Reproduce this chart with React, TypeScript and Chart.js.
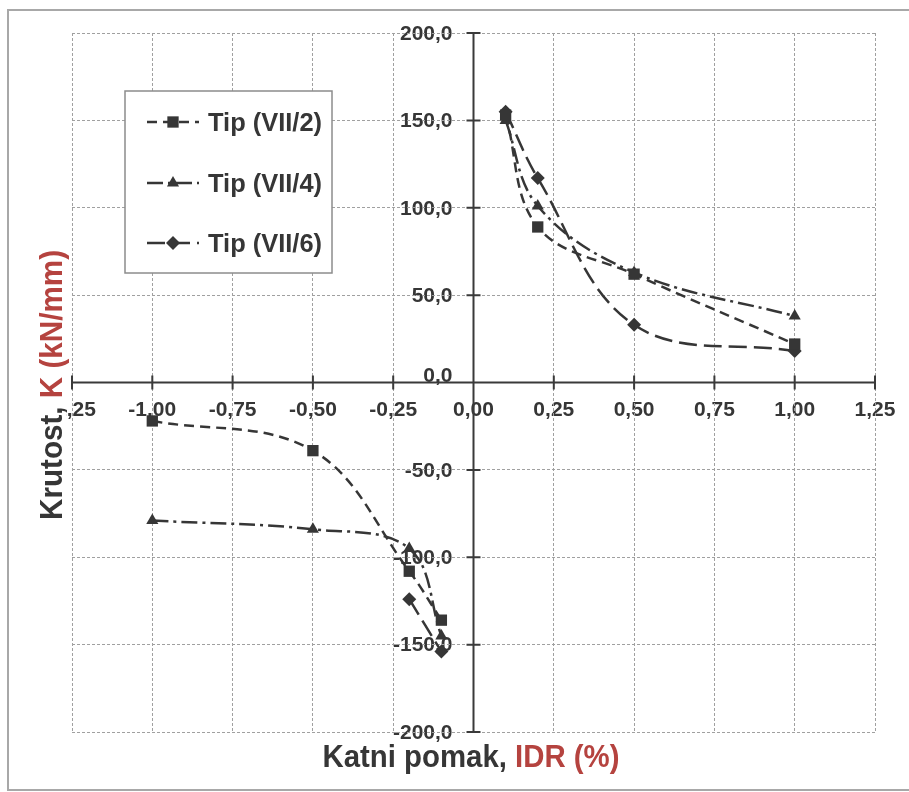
import React, { useEffect, useRef } from 'react';
import { Chart, registerables } from 'chart.js';

Chart.register(...registerables);

// ---- data ----
const X_VALUES = [-1.0, -0.5, -0.2, -0.1, 0.1, 0.2, 0.5, 1.0];
const TIP_VII_2 = [-22, -39, -108, -136, 153, 89, 62, 22];
const TIP_VII_4 = [-79, -84, -95, -145, 150, 101, 63, 38];
const TIP_VII_6 = [null, null, -124, -154, 155, 117, 33, 18];
const SERIES_NAMES = ['Tip (VII/2)', 'Tip (VII/4)', 'Tip (VII/6)'];
const X_TICK_LABELS = ['-1,25', '-1,00', '-0,75', '-0,50', '-0,25', '0,00', '0,25', '0,50', '0,75', '1,00', '1,25'];
const Y_TICK_LABELS = ['-200,0', '-150,0', '-100,0', '-50,0', '0,0', '50,0', '100,0', '150,0', '200,0'];
const X_TITLE = ['Katni pomak, ', 'IDR (%)'];
const Y_TITLE = ['Krutost, ', 'K (kN/mm)'];

// ---- styles ----
const W = 909;
const H = 792;
const INK = '#363636';
const RED = '#b5433f';
const FONT = '"Liberation Sans", Arial, sans-serif';
const DASHES = [[10, 6], [16, 5, 3, 5], [18, 7]];
const MARKERS = ['rect', 'triangle', 'rectRot'];
const RADII = [8, 7, 7];

function toPoints(vals: (number | null)[]) {
  const pts: { x: number; y: number | null }[] = [];
  X_VALUES.forEach((x, i) => {
    if (i > 0 && X_VALUES[i - 1] < 0 && x > 0) pts.push({ x: 0, y: null });
    pts.push({ x, y: vals[i] });
  });
  return pts;
}

function drawMarker(ctx: CanvasRenderingContext2D, style: string, x: number, y: number, r: number) {
  ctx.beginPath();
  if (style === 'rect') {
    const s = Math.SQRT1_2 * r;
    ctx.rect(x - s, y - s, 2 * s, 2 * s);
  } else if (style === 'triangle') {
    ctx.moveTo(x, y - r);
    ctx.lineTo(x + r * Math.sin(Math.PI / 3), y + r / 2);
    ctx.lineTo(x - r * Math.sin(Math.PI / 3), y + r / 2);
    ctx.closePath();
  } else {
    ctx.moveTo(x, y - r);
    ctx.lineTo(x + r, y);
    ctx.lineTo(x, y + r);
    ctx.lineTo(x - r, y);
    ctx.closePath();
  }
  ctx.fill();
}

function drawFitted(
  ctx: CanvasRenderingContext2D,
  parts: string[],
  colors: string[],
  cx: number,
  baseY: number,
  fontPx: number,
  targetW: number,
  rotate: boolean
) {
  ctx.save();
  ctx.font = `bold ${fontPx}px ${FONT}`;
  ctx.textAlign = 'left';
  ctx.textBaseline = 'alphabetic';
  const widths = parts.map((p) => ctx.measureText(p).width);
  const total = widths.reduce((a, b) => a + b, 0);
  const sx = targetW / total;
  if (rotate) {
    ctx.translate(baseY, cx);
    ctx.rotate(-Math.PI / 2);
  } else {
    ctx.translate(cx, baseY);
  }
  ctx.scale(sx, 1);
  let x = -total / 2;
  parts.forEach((p, i) => {
    ctx.fillStyle = colors[i];
    ctx.fillText(p, x, 0);
    x += widths[i];
  });
  ctx.restore();
}

const decorPlugin = {
  id: 'decor',
  beforeDraw(chart: any) {
    const { ctx, scales } = chart;
    const xs = scales.x;
    const ys = scales.y;
    const x0 = xs.getPixelForValue(0);
    const y0 = ys.getPixelForValue(0);
    ctx.save();
    ctx.fillStyle = '#ffffff';
    ctx.fillRect(0, 0, W, H);
    // outer frame
    ctx.strokeStyle = '#a8a8a8';
    ctx.lineWidth = 2;
    ctx.strokeRect(8, 10, W + 10, 780);

    // tick labels
    ctx.fillStyle = INK;
    ctx.font = `bold 21px ${FONT}`;
    ctx.save();
    ctx.beginPath();
    ctx.rect(66, 0, W, H);
    ctx.clip();
    ctx.textAlign = 'center';
    ctx.textBaseline = 'middle';
    xs.ticks.forEach((t: any, i: number) => {
      const px = xs.getPixelForValue(t.value);
      ctx.fillText(X_TICK_LABELS[i] ?? '', px, y0 + 28);
    });
    ctx.restore();
    ctx.textAlign = 'right';
    ctx.textBaseline = 'middle';
    ys.ticks.forEach((t: any, i: number) => {
      const py = ys.getPixelForValue(t.value);
      ctx.fillText(Y_TICK_LABELS[i] ?? '', x0 - 21, py + (t.value === 0 ? -6 : 1));
    });

    // titles
    drawFitted(ctx, X_TITLE, [INK, RED], 471, 767, 32, 297, false);
    drawFitted(ctx, Y_TITLE, [INK, RED], 385, 62, 32, 270, true);
    ctx.restore();
  },
  beforeDatasetsDraw(chart: any) {
    const { ctx, chartArea, scales } = chart;
    const xs = scales.x;
    const ys = scales.y;
    const x0 = xs.getPixelForValue(0);
    const y0 = ys.getPixelForValue(0);
    ctx.save();
    ctx.strokeStyle = '#3a3a3a';
    ctx.lineWidth = 2;
    ctx.setLineDash([]);
    ctx.beginPath();
    ctx.moveTo(chartArea.left, y0);
    ctx.lineTo(chartArea.right, y0);
    xs.ticks.forEach((t: any) => {
      const px = xs.getPixelForValue(t.value);
      ctx.moveTo(px, y0 - 7);
      ctx.lineTo(px, y0 + 7);
    });
    ctx.moveTo(x0, chartArea.top);
    ctx.lineTo(x0, chartArea.bottom);
    ys.ticks.forEach((t: any) => {
      const py = ys.getPixelForValue(t.value);
      ctx.moveTo(x0 - 7, py);
      ctx.lineTo(x0 + 7, py);
    });
    ctx.stroke();
    ctx.restore();
  },
  afterDraw(chart: any) {
    const { ctx } = chart;
    ctx.save();
    // legend box
    ctx.fillStyle = '#ffffff';
    ctx.fillRect(125, 91, 207, 182);
    ctx.strokeStyle = '#8c8c8c';
    ctx.lineWidth = 1.5;
    ctx.strokeRect(125, 91, 207, 182);
    const rows = [122, 183, 243];
    SERIES_NAMES.forEach((name, i) => {
      const y = rows[i];
      ctx.strokeStyle = INK;
      ctx.fillStyle = INK;
      ctx.lineWidth = 2.5;
      ctx.setLineDash(DASHES[i]);
      ctx.beginPath();
      ctx.moveTo(147, y);
      ctx.lineTo(199, y);
      ctx.stroke();
      ctx.setLineDash([]);
      drawMarker(ctx, MARKERS[i], 173, y, RADII[i]);
      ctx.save();
      ctx.font = `bold 25px ${FONT}`;
      ctx.textAlign = 'left';
      ctx.textBaseline = 'alphabetic';
      const tw = ctx.measureText(name).width;
      ctx.translate(208, y + 9);
      ctx.scale(114 / tw, 1);
      ctx.fillText(name, 0, 0);
      ctx.restore();
    });
    ctx.restore();
  },
};

export default function App() {
  const ref = useRef<HTMLCanvasElement | null>(null);

  useEffect(() => {
    if (!ref.current) return;
    const seriesVals = [TIP_VII_2, TIP_VII_4, TIP_VII_6];
    const chart = new Chart(ref.current, {
      type: 'line',
      data: {
        datasets: seriesVals.map((vals, i) => ({
          label: SERIES_NAMES[i],
          data: toPoints(vals),
          borderColor: INK,
          backgroundColor: INK,
          borderWidth: 2.5,
          borderDash: DASHES[i],
          pointStyle: MARKERS[i] as any,
          pointRadius: RADII[i],
          pointBorderWidth: 0,
          pointBackgroundColor: INK,
          tension: 0.37,
          spanGaps: false,
          fill: false,
        })),
      },
      options: {
        responsive: false,
        animation: false,
        devicePixelRatio: 1,
        layout: { padding: { left: 72, right: 34, top: 33, bottom: 60 } },
        plugins: { legend: { display: false }, tooltip: { enabled: false } },
        scales: {
          x: {
            type: 'linear',
            min: -1.25,
            max: 1.25,
            ticks: { display: false, stepSize: 0.25 },
            grid: { color: '#a0a0a0', lineWidth: 1, drawTicks: false },
            border: { display: false, dash: [3, 2] },
          },
          y: {
            type: 'linear',
            min: -200,
            max: 200,
            ticks: { display: false, stepSize: 50 },
            grid: { color: '#a0a0a0', lineWidth: 1, drawTicks: false },
            border: { display: false, dash: [3, 2] },
          },
        },
      },
      plugins: [decorPlugin],
    });
    return () => chart.destroy();
  }, []);

  return (
    <div style={{ position: 'absolute', left: 0, top: 0, width: W, height: H, background: '#fff' }}>
      <canvas ref={ref} width={W} height={H} style={{ display: 'block', width: W, height: H }} />
    </div>
  );
}
